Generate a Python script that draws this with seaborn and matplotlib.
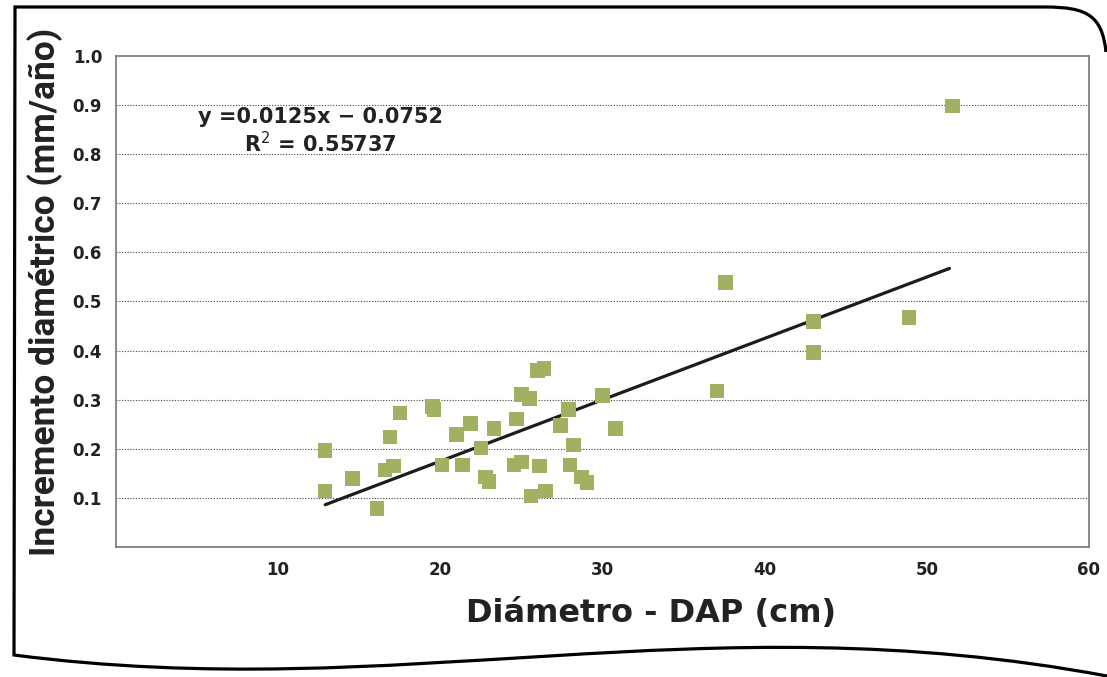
import numpy as np
import pandas as pd
import seaborn as sns
import matplotlib.pyplot as plt
from matplotlib.path import Path
from matplotlib.patches import PathPatch

# diametro (cm) and incremento (mm/año)
dap = [12.9, 12.9, 14.6, 16.1, 16.6, 17.1, 16.9, 17.5, 19.5, 19.6, 20.1, 21.0,
       21.35, 21.85, 22.5, 22.8, 23.0, 23.3, 24.55, 24.7, 25.0, 25.0, 25.5, 25.6,
       26.0, 26.1, 26.4, 26.5, 27.4, 27.9, 28.0, 28.2, 28.7, 29.05, 30.0, 30.8,
       37.05, 37.6, 43.0, 43.0, 48.9, 51.6]
incremento = [0.114, 0.196, 0.139, 0.078, 0.157, 0.165, 0.224, 0.273, 0.286, 0.280,
              0.167, 0.229, 0.167, 0.251, 0.202, 0.143, 0.133, 0.241, 0.167, 0.261,
              0.310, 0.173, 0.302, 0.104, 0.359, 0.165, 0.363, 0.114, 0.247, 0.280,
              0.167, 0.208, 0.143, 0.131, 0.308, 0.241, 0.318, 0.539, 0.459, 0.396,
              0.467, 0.898]
slope = 0.0125
intercept = -0.0752
r2 = 0.55737
xticks = [10, 20, 30, 40, 50, 60]
yticks = [0.1, 0.2, 0.3, 0.4, 0.5, 0.6, 0.7, 0.8, 0.9, 1.0]

df = pd.DataFrame({'dap': dap, 'inc': incremento})

sns.set_style('white')
plt.rcParams['font.family'] = ['DejaVu Sans']

fig = plt.figure(figsize=(11.07, 6.77), dpi=100)
ax = fig.add_axes([0.1048, 0.192, 0.8789, 0.7254])

for y in yticks[:-1]:
    ax.axhline(y, color='#444444', linestyle=(0, (1, 1.5)), linewidth=0.8, zorder=0)

sns.scatterplot(data=df, x='dap', y='inc', marker='s', s=110, color='#a0b262',
                edgecolor='none', linewidth=0, ax=ax, zorder=3)

xl = np.array([12.9, 51.4])
sns.lineplot(x=xl, y=slope * xl + intercept, color='#1c1c1c', linewidth=2.3, ax=ax, zorder=2)

ax.set_xlim(0, 60)
ax.set_ylim(0, 1.0)
ax.set_xticks(xticks)
ax.set_yticks(yticks)
ax.set_xticklabels([str(t) for t in xticks], fontsize=12, fontweight='bold', color='#222222')
ax.set_yticklabels([f'{t:.1f}' for t in yticks], fontsize=12, fontweight='bold', color='#222222')
ax.tick_params(axis='x', direction='in', length=8, width=1, color='#666666', pad=10)
ax.tick_params(axis='y', length=0, pad=10)
for s in ax.spines.values():
    s.set_color('#777777')
    s.set_linewidth(1.2)

ax.set_xlabel('Diámetro - DAP (cm)', fontsize=23, fontweight='bold', color='#222222')
ax.xaxis.set_label_coords(0.55, -0.104)
ax.set_ylabel('Incremento diamétrico (mm/año)', fontsize=25.5, fontweight='bold', color='#222222',
              family=['Roboto', 'DejaVu Sans'], fontstretch='condensed')
ax.yaxis.set_label_coords(-0.054, 0.52)

ax.text(12.6, 0.875, 'y =0.0125x \u2212 0.0752', ha='center', va='center', fontsize=15,
        fontweight='bold', color='#222222')
ax.text(12.6, 0.822, f'R$^2$ = {r2}', ha='center', va='center', fontsize=15,
        fontweight='bold', color='#222222')

# wavy frame around the figure
frame = fig.add_axes([0, 0, 1, 1], zorder=-1)
frame.set_xlim(0, 1107)
frame.set_ylim(677, 0)
frame.axis('off')
verts = [(1106, 52), (1102, 16), (1088, 7), (1045, 7), (15, 7), (14, 655),
         (400, 705), (700, 600), (1107, 676)]
codes = [Path.MOVETO, Path.CURVE4, Path.CURVE4, Path.CURVE4, Path.LINETO, Path.LINETO,
         Path.CURVE4, Path.CURVE4, Path.CURVE4]
frame.add_patch(PathPatch(Path(verts, codes), facecolor='none', edgecolor='black',
                          linewidth=2.3, clip_on=False))

fig.savefig('out.png', dpi=100)
